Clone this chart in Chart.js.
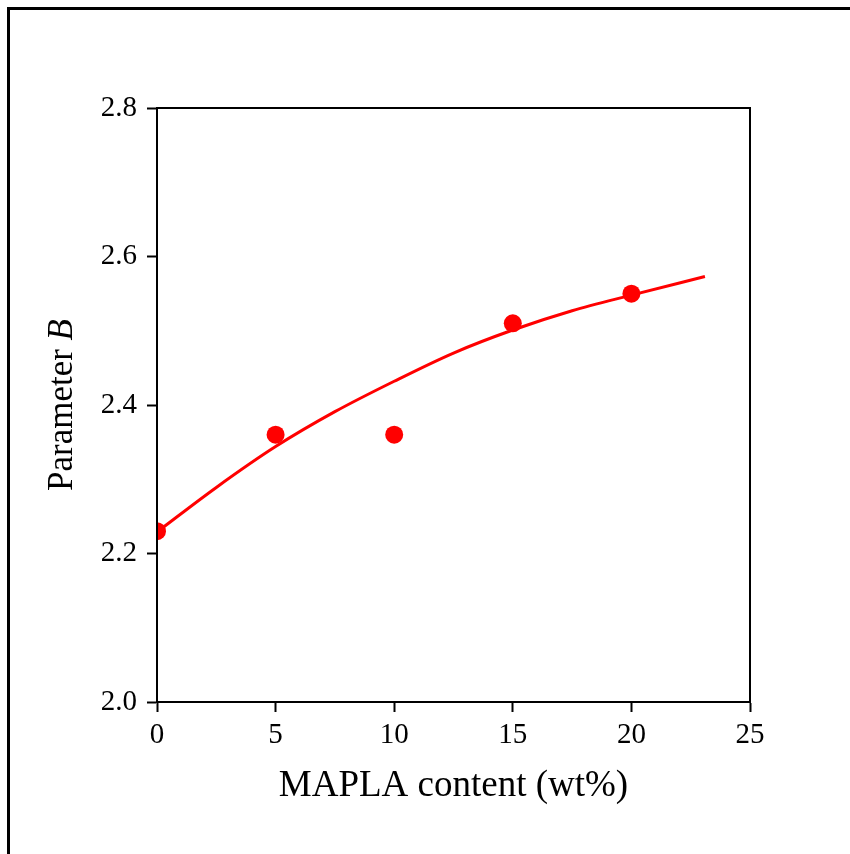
<!DOCTYPE html>
<html>
<head>
<meta charset="utf-8">
<script src="https://cdn.jsdelivr.net/npm/chart.js@4/dist/chart.umd.min.js"></script>
<style>
    html, body { margin: 0; padding: 0; background: #fff; }
    #wrap { width: 850px; height: 854px; }
</style>
</head>
<body>
<div id="wrap"><canvas id="paramChart" width="850" height="854"></canvas></div>
<script>
// Measured values
const mapla = [0, 5, 10, 15, 20];
const paramB = [2.23, 2.36, 2.36, 2.51, 2.55];

// Fitted curve, read along its length
const fitX = [0, 2.5, 5, 7.5, 10, 12.5, 15, 17.5, 20, 23.1];
const fitY = [2.229, 2.289, 2.344, 2.391, 2.432, 2.470, 2.501, 2.527, 2.548, 2.573];

const xTicks = [0, 5, 10, 15, 20, 25];
const yTicks = [2.0, 2.2, 2.4, 2.6, 2.8];

const serif = "'Liberation Serif', 'Times New Roman', serif";
const red = '#ff0000';

// Outer frame lines and the box around the plot area
const framePlugin = {
    id: 'frame',
    afterDraw(chart) {
        const c = chart.ctx;
        const a = chart.chartArea;
        c.save();
        c.strokeStyle = '#000';
        c.lineWidth = 3;
        c.beginPath();
        c.moveTo(8.5, 854);
        c.lineTo(8.5, 8.5);
        c.lineTo(850, 8.5);
        c.stroke();
        c.lineWidth = 2;
        c.beginPath();
        c.rect(a.left, a.top, a.right - a.left, a.bottom - a.top);
        c.stroke();
        c.restore();
    }
};

// Y axis title with an italic symbol
const yTitlePlugin = {
    id: 'yTitle',
    afterDraw(chart) {
        const c = chart.ctx;
        const a = chart.chartArea;
        const plain = '35px ' + serif;
        const ital = 'italic 35px ' + serif;
        const t1 = 'Parameter ';
        const t2 = 'B';
        c.save();
        c.font = plain;
        const w1 = c.measureText(t1).width;
        c.font = ital;
        const w2 = c.measureText(t2).width;
        c.translate(72, (a.top + a.bottom) / 2);
        c.rotate(-Math.PI / 2);
        c.fillStyle = '#000';
        c.textBaseline = 'alphabetic';
        c.textAlign = 'left';
        const start = -(w1 + w2) / 2;
        c.font = plain;
        c.fillText(t1, start, 0);
        c.font = ital;
        c.fillText(t2, start + w1, 0);
        c.restore();
    }
};

const ctx = document.getElementById('paramChart').getContext('2d');

new Chart(ctx, {
    type: 'scatter',
    data: {
        datasets: [
            {
                label: 'fit',
                data: fitX.map((x, i) => ({ x: x, y: fitY[i] })),
                showLine: true,
                borderColor: red,
                borderWidth: 3,
                pointRadius: 0,
                cubicInterpolationMode: 'monotone',
                fill: false
            },
            {
                label: 'Parameter B',
                data: mapla.map((x, i) => ({ x: x, y: paramB[i] })),
                showLine: false,
                pointRadius: 9,
                pointBackgroundColor: red,
                pointBorderColor: red,
                pointBorderWidth: 0
            }
        ]
    },
    options: {
        responsive: false,
        animation: false,
        events: [],
        layout: { padding: { left: 0, top: 108, right: 100, bottom: 46 } },
        plugins: {
            legend: { display: false },
            tooltip: { enabled: false }
        },
        scales: {
            x: {
                type: 'linear',
                min: 0,
                max: 25,
                afterBuildTicks(scale) {
                    scale.ticks = xTicks.map(v => ({ value: v }));
                },
                afterFit(scale) { scale.height = 106; },
                grid: {
                    drawOnChartArea: false,
                    drawTicks: true,
                    tickLength: 10,
                    tickWidth: 2,
                    tickColor: '#000'
                },
                border: { display: true, color: '#000', width: 2 },
                ticks: {
                    color: '#000',
                    padding: 6,
                    maxRotation: 0,
                    font: { family: serif, size: 29 },
                    callback: v => String(v)
                },
                title: {
                    display: true,
                    text: 'MAPLA content (wt%)',
                    color: '#000',
                    font: { family: serif, size: 37 },
                    padding: { top: 0, bottom: 0 }
                }
            },
            y: {
                type: 'linear',
                min: 2.0,
                max: 2.8,
                afterBuildTicks(scale) {
                    scale.ticks = yTicks.map(v => ({ value: v }));
                },
                afterFit(scale) { scale.width = 157; },
                grid: {
                    drawOnChartArea: false,
                    drawTicks: true,
                    tickLength: 10,
                    tickWidth: 2,
                    tickColor: '#000'
                },
                border: { display: true, color: '#000', width: 2 },
                ticks: {
                    color: '#000',
                    padding: 10,
                    font: { family: serif, size: 29 },
                    callback: v => Number(v).toFixed(1)
                },
                title: { display: false }
            }
        }
    },
    plugins: [framePlugin, yTitlePlugin]
});
</script>
</body>
</html>
